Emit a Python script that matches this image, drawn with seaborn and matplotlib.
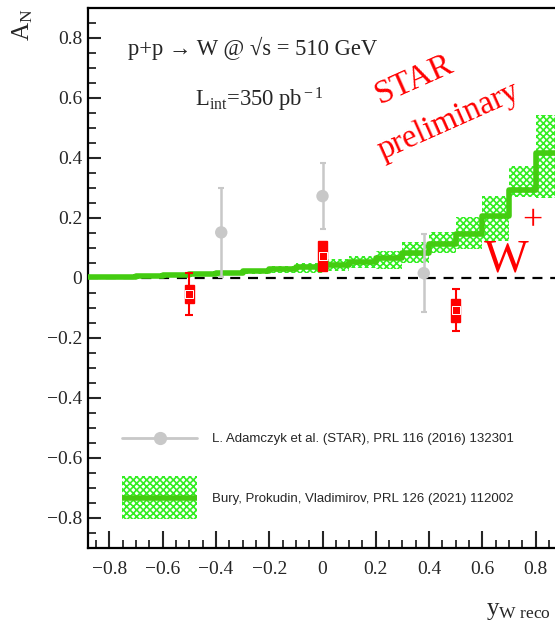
import numpy as np
import pandas as pd
import matplotlib
matplotlib.use("Agg")
import matplotlib.pyplot as plt
import seaborn as sns
from matplotlib.patches import Patch, Rectangle
from matplotlib.lines import Line2D
from matplotlib.legend_handler import HandlerPatch
from matplotlib.ticker import MultipleLocator, FuncFormatter

# ---------------- data ----------------
star_x = [-0.5, 0.0, 0.5]
star_y = [-0.052, 0.072, -0.107]
star_stat = [0.070, 0.040, 0.070]
star_sys = [0.030, 0.050, 0.038]

prl2016_x = [-0.38, 0.0, 0.38]
prl2016_y = [0.152, 0.273, 0.016]
prl2016_err = [0.148, 0.110, 0.130]

theory_edges = [-0.9, -0.8, -0.7, -0.6, -0.5, -0.4, -0.3, -0.2, -0.1, 0.0,
                0.1, 0.2, 0.3, 0.4, 0.5, 0.6, 0.7, 0.8, 0.9]
theory_val = [0.003, 0.005, 0.008, 0.011, 0.013, 0.017, 0.022, 0.029, 0.036,
              0.043, 0.052, 0.066, 0.085, 0.112, 0.148, 0.206, 0.295, 0.416]
theory_lo = [0.000, 0.002, 0.004, 0.006, 0.007, 0.010, 0.013, 0.018, 0.016,
             0.023, 0.035, 0.030, 0.051, 0.085, 0.096, 0.122, 0.270, 0.267]
theory_hi = [0.006, 0.008, 0.012, 0.016, 0.019, 0.025, 0.031, 0.040, 0.050,
             0.062, 0.073, 0.090, 0.120, 0.154, 0.202, 0.272, 0.375, 0.545]

y_ticks = [-0.8, -0.6, -0.4, -0.2, 0.0, 0.2, 0.4, 0.6, 0.8]
x_ticks = [-0.8, -0.6, -0.4, -0.2, 0.0, 0.2, 0.4, 0.6, 0.8]

label_2016 = "L. Adamczyk et al. (STAR), PRL 116 (2016) 132301"
label_theory = "Bury, Prokudin, Vladimirov, PRL 126 (2021) 112002"

# ---------------- style ----------------
sns.set_style("ticks")
plt.rcParams["font.family"] = ["Liberation Serif", "DejaVu Serif"]
plt.rcParams["mathtext.fontset"] = "custom"
plt.rcParams["mathtext.rm"] = "Liberation Serif"
plt.rcParams["mathtext.it"] = "Liberation Serif:italic"
plt.rcParams["mathtext.bf"] = "Liberation Serif:bold"
plt.rcParams["hatch.linewidth"] = 1.2

GREEN_LINE = "#44cc11"
GREEN_HATCH = "#33ee22"
GRAY = "#c8c8c8"
RED = "#ff0000"

fig = plt.figure(figsize=(5.55, 6.4), dpi=100)
W, H = 555, 640
ax = fig.add_axes([88 / W, 1 - 548 / H, (557 - 88) / W, (548 - 8) / H])

ax.set_xlim(-0.88, 0.88)
ax.set_ylim(-0.9, 0.9)

# zero line
ax.axhline(0, color="black", ls=(0, (4.5, 3.5)), lw=1.6, zorder=1)

# theory band + central step line
ax.stairs(theory_hi, theory_edges, baseline=theory_lo, fill=True,
          facecolor="none", edgecolor=GREEN_HATCH, hatch="xxxxx", lw=0, zorder=2)
df_th = pd.DataFrame({"x": theory_edges, "y": theory_val + [theory_val[-1]]})
sns.lineplot(data=df_th, x="x", y="y", drawstyle="steps-post", color=GREEN_LINE,
             lw=4, ax=ax, zorder=3, estimator=None, sort=False, legend=False)

# 2016 STAR points
ax.errorbar(prl2016_x, prl2016_y, yerr=prl2016_err, fmt="none", ecolor=GRAY,
            elinewidth=1.8, capsize=2.5, capthick=1.5, zorder=4)
sns.scatterplot(x=prl2016_x, y=prl2016_y, color=GRAY, s=80, marker="o",
                edgecolor="none", ax=ax, zorder=5, legend=False)

# new STAR points
sys_arr = np.array(star_sys)
ax.bar(star_x, 2 * sys_arr, bottom=np.array(star_y) - sys_arr, width=0.034,
       color=RED, edgecolor=RED, lw=1, zorder=6)
ax.errorbar(star_x, star_y, yerr=star_stat, fmt="none", ecolor=RED,
            elinewidth=1.5, capsize=3, capthick=1.5, zorder=6)
sns.scatterplot(x=star_x, y=star_y, color=RED, s=30, marker="s",
                edgecolor="white", linewidth=0.7, ax=ax, zorder=7, legend=False)

# ---------------- axes styling ----------------
for side in ["left", "bottom", "top"]:
    ax.spines[side].set_linewidth(1.6)
    ax.spines[side].set_color("black")
ax.spines["right"].set_visible(False)

def fmt(v, pos):
    if abs(v) < 1e-9:
        return "0"
    return f"{v:.1f}".replace("-", "\u2212")

ax.set_xticks(x_ticks)
ax.set_yticks(y_ticks)
ax.xaxis.set_major_formatter(FuncFormatter(fmt))
ax.yaxis.set_major_formatter(FuncFormatter(fmt))
ax.xaxis.set_minor_locator(MultipleLocator(0.05))
ax.yaxis.set_minor_locator(MultipleLocator(0.05))
ax.tick_params(axis="x", which="major", direction="in", length=12, width=1.5,
               labelsize=14, pad=9)
ax.tick_params(axis="x", which="minor", direction="in", length=6, width=1.3)
ax.tick_params(axis="y", which="major", direction="in", length=9.5, width=1.5,
               labelsize=14, pad=4)
ax.tick_params(axis="y", which="minor", direction="in", length=6, width=1.3)

# axis titles
ax.set_ylabel(r"A$_{\rm N}$", fontsize=18, loc="top")
ax.yaxis.set_label_coords((35 - 88) / 469, (548 - 9) / 540)
ax.set_xlabel(r"y$_{\rm W\ reco}$", fontsize=18, ha="left")
ax.xaxis.set_label_coords((486 - 88) / 469, (548 - 600) / 540)

# annotations
ax.text(40 / 469, (548 - 55) / 540, "p+p \u2192 W @ \u221as = 510 GeV",
        transform=ax.transAxes, fontsize=16.3, va="baseline", ha="left")
ax.text(107 / 469, (548 - 107) / 540, r"L$_{\rm int}$=350 pb$^{\rm -1}$",
        transform=ax.transAxes, fontsize=16.3, va="baseline", ha="left")
ax.text((414 - 88) / 469, (548 - 80) / 540, "STAR", color=RED, fontsize=24,
        rotation=24, ha="center", va="center", rotation_mode="anchor",
        transform=ax.transAxes)
ax.text((449 - 88) / 469, (548 - 121) / 540, "preliminary", color=RED,
        fontsize=23.5, rotation=24, ha="center", va="center",
        rotation_mode="anchor", transform=ax.transAxes)
ax.text((484 - 88) / 469, (548 - 272) / 540, "W", color=RED,
        fontsize=34, ha="left", va="baseline", transform=ax.transAxes, zorder=1.5)
ax.text((532 - 88) / 469, (548 - 222) / 540, "+", color=RED,
        fontsize=26, ha="center", va="center", transform=ax.transAxes, zorder=1.5)

# legend
fs = 9.5
fs_px = fs * 100 / 72


def band_patch(legend, orig_handle, xdescent, ydescent, width, height, fontsize):
    ph = 43 * 72 / 100
    yc = (height - ydescent) / 2
    return Rectangle((-xdescent, yc - ph / 2), width, ph)


h1 = Line2D([], [], color=GRAY, lw=2, marker="o", markersize=8.5,
            markeredgecolor=GRAY)
h2p = Patch(facecolor="none", edgecolor=GREEN_HATCH, hatch="xxxxx", lw=0)
h2l = Line2D([], [], color=GREEN_LINE, lw=4, solid_capstyle="butt")
leg = ax.legend(handles=[h1, (h2p, h2l)], labels=[label_2016, label_theory],
                loc="upper left",
                bbox_to_anchor=((122 - 88) / 469, (548 - 433) / 540),
                frameon=False, borderpad=0, borderaxespad=0,
                handlelength=75 / fs_px, handleheight=0.7,
                handletextpad=15 / fs_px, labelspacing=48 / fs_px,
                handler_map={Patch: HandlerPatch(patch_func=band_patch)},
                prop={"family": "Liberation Sans", "size": fs})

fig.savefig("out.png", dpi=100)
